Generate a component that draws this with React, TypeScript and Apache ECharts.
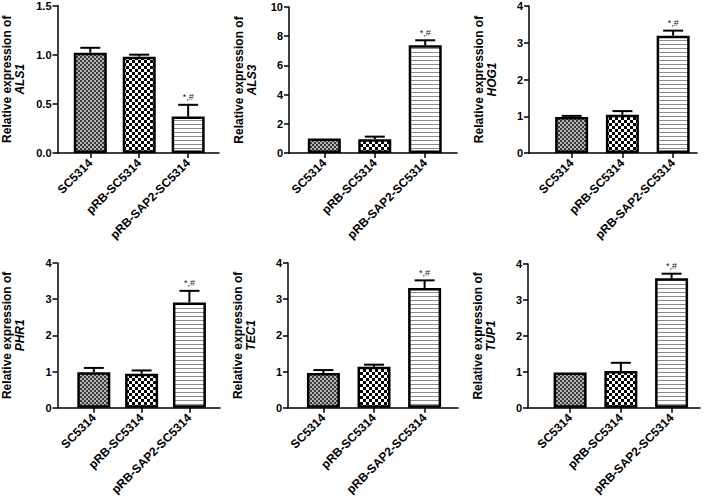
import React, { useEffect, useRef } from 'react';
import * as echarts from 'echarts';

const categories = ['SC5314', 'pRB-SC5314', 'pRB-SAP2-SC5314'];
const genes = ['ALS1', 'ALS3', 'HOG1', 'PHR1', 'TEC1', 'TUP1'];

const als1Mean = [1.02, 0.98, 0.37];
const als1Sd = [0.05, 0.02, 0.12];
const als3Mean = [0.99, 0.95, 7.38];
const als3Sd = [0.0, 0.17, 0.34];
const hog1Mean = [0.98, 1.04, 3.19];
const hog1Sd = [0.03, 0.1, 0.14];
const phr1Mean = [0.98, 0.94, 2.91];
const phr1Sd = [0.12, 0.09, 0.32];
const tec1Mean = [0.96, 1.13, 3.31];
const tec1Sd = [0.08, 0.06, 0.21];
const tup1Mean = [0.98, 1.02, 3.6];
const tup1Sd = [0.0, 0.23, 0.13];

const significance = ['', '', '*,#'];

const yMax = [1.5, 10, 4, 4, 4, 4];
const yInterval = [0.5, 2, 1, 1, 1, 1];
const yDecimals = [1, 0, 0, 0, 0, 0];

const means = [als1Mean, als3Mean, hog1Mean, phr1Mean, tec1Mean, tup1Mean];
const sds = [als1Sd, als3Sd, hog1Sd, phr1Sd, tec1Sd, tup1Sd];

const layout = [
  { left: 52, top: 5, width: 167, height: 148, xMin: -0.67, xMax: 2.63 },
  { left: 289, top: 7, width: 168, height: 146, xMin: -0.7, xMax: 2.63 },
  { left: 529, top: 6, width: 168, height: 147, xMin: -0.84, xMax: 2.47 },
  { left: 48, top: 263, width: 172, height: 145, xMin: -0.76, xMax: 2.64 },
  { left: 288, top: 263, width: 170, height: 145, xMin: -0.7, xMax: 2.66 },
  { left: 528, top: 264, width: 172, height: 146, xMin: -0.83, xMax: 2.56 },
];

const FONT = '"Liberation Sans", Arial, sans-serif';

function makePatterns() {
  const c1 = document.createElement('canvas');
  c1.width = 4; c1.height = 4;
  const g1 = c1.getContext('2d')!;
  g1.fillStyle = '#b4b4b4'; g1.fillRect(0, 0, 4, 4);
  g1.fillStyle = '#3a3a3a'; g1.fillRect(0, 0, 2, 2); g1.fillRect(2, 2, 2, 2);

  const c2 = document.createElement('canvas');
  c2.width = 6; c2.height = 6;
  const g2 = c2.getContext('2d')!;
  g2.fillStyle = '#ffffff'; g2.fillRect(0, 0, 6, 6);
  g2.fillStyle = '#000000'; g2.fillRect(0, 0, 3, 3); g2.fillRect(3, 3, 3, 3);

  const c3 = document.createElement('canvas');
  c3.width = 4; c3.height = 4;
  const g3 = c3.getContext('2d')!;
  g3.fillStyle = '#ffffff'; g3.fillRect(0, 0, 4, 4);
  g3.fillStyle = '#8a8a8a'; g3.fillRect(0, 0, 4, 1);

  return [c1, c2, c3].map((c) => ({ image: c, repeat: 'repeat' as const }));
}

export default function App() {
  const ref = useRef<HTMLDivElement>(null);
  useEffect(() => {
    if (!ref.current) return;
    const chart = echarts.init(ref.current, null, { renderer: 'svg' });
    const patterns = makePatterns();

    const grid: any[] = [];
    const xAxis: any[] = [];
    const yAxis: any[] = [];
    const series: any[] = [];

    genes.forEach((gene, k) => {
      const L = layout[k];
      grid.push({ left: L.left, top: L.top, width: L.width, height: L.height, containLabel: false });
      xAxis.push({
        type: 'value',
        gridIndex: k,
        min: L.xMin,
        max: L.xMax,
        splitLine: { show: false },
        axisLine: { show: true, onZero: false, lineStyle: { color: '#000', width: 1.5 } },
        axisTick: { show: true, customValues: [0, 1, 2], length: 5, lineStyle: { color: '#000', width: 1.5 } },
        axisLabel: {
          customValues: [0, 1, 2],
          formatter: (v: number) => categories[Math.round(v)] ?? '',
          rotate: 45,
          margin: 8,
          color: '#000',
          fontWeight: 'bold',
          fontSize: 12,
          fontFamily: FONT,
        },
      });
      yAxis.push({
        type: 'value',
        gridIndex: k,
        min: 0,
        max: yMax[k],
        interval: yInterval[k],
        splitLine: { show: false },
        axisLine: { show: true, onZero: false, lineStyle: { color: '#000', width: 1.5 } },
        axisTick: { show: true, length: 5, lineStyle: { color: '#000', width: 1.5 } },
        axisLabel: {
          color: '#000',
          fontWeight: 'bold',
          fontSize: 11,
          fontFamily: FONT,
          margin: 6,
          formatter: (v: number) => v.toFixed(yDecimals[k]),
        },
        name: `{a|Relative expression of}\n{b|${gene}}`,
        nameLocation: 'middle',
        nameRotate: 90,
        nameGap: 31,
        nameTextStyle: {
          color: '#000',
          fontFamily: FONT,
          rich: {
            a: { fontSize: 12, fontWeight: 'bold', fontFamily: FONT, color: '#000', lineHeight: 13 },
            b: { fontSize: 12, fontWeight: 'bold', fontStyle: 'italic', fontFamily: FONT, color: '#000', lineHeight: 13 },
          },
        },
      });
      series.push({
        type: 'bar',
        xAxisIndex: k,
        yAxisIndex: k,
        barWidth: 33,
        data: means[k].map((v, i) => ({
          value: [i, v],
          itemStyle: { color: patterns[i], borderColor: '#000', borderWidth: 2.5 },
        })),
      });
      series.push({
        type: 'custom',
        xAxisIndex: k,
        yAxisIndex: k,
        z: 5,
        data: means[k].map((v, i) => [i, v, v + sds[k][i], i]),
        renderItem: (params: any, api: any) => {
          const x = api.value(0);
          const m = api.value(1);
          const u = api.value(2);
          const idx = api.value(3);
          const p0 = api.coord([x, m]);
          const p1 = api.coord([x, u]);
          const children: any[] = [];
          if (p0[1] - p1[1] > 0.5) {
            children.push({
              type: 'line',
              shape: { x1: p0[0], y1: p0[1], x2: p1[0], y2: p1[1] },
              style: { stroke: '#000', lineWidth: 2 },
            });
            children.push({
              type: 'line',
              shape: { x1: p1[0] - 10, y1: p1[1], x2: p1[0] + 10, y2: p1[1] },
              style: { stroke: '#000', lineWidth: 2 },
            });
          }
          const sig = significance[idx];
          if (sig) {
            children.push({
              type: 'text',
              style: {
                text: sig,
                x: p1[0],
                y: p1[1] - 3,
                align: 'center',
                verticalAlign: 'bottom',
                fontSize: 9,
                fontFamily: FONT,
                fill: '#222',
              },
            });
          }
          return { type: 'group', children };
        },
      });
    });

    chart.setOption({
      animation: false,
      backgroundColor: '#fff',
      grid,
      xAxis,
      yAxis,
      series,
    });
    return () => chart.dispose();
  }, []);
  return (
    <div
      ref={ref}
      style={{ position: 'fixed', left: 0, top: 0, width: 709, height: 498, background: '#fff' }}
    />
  );
}
